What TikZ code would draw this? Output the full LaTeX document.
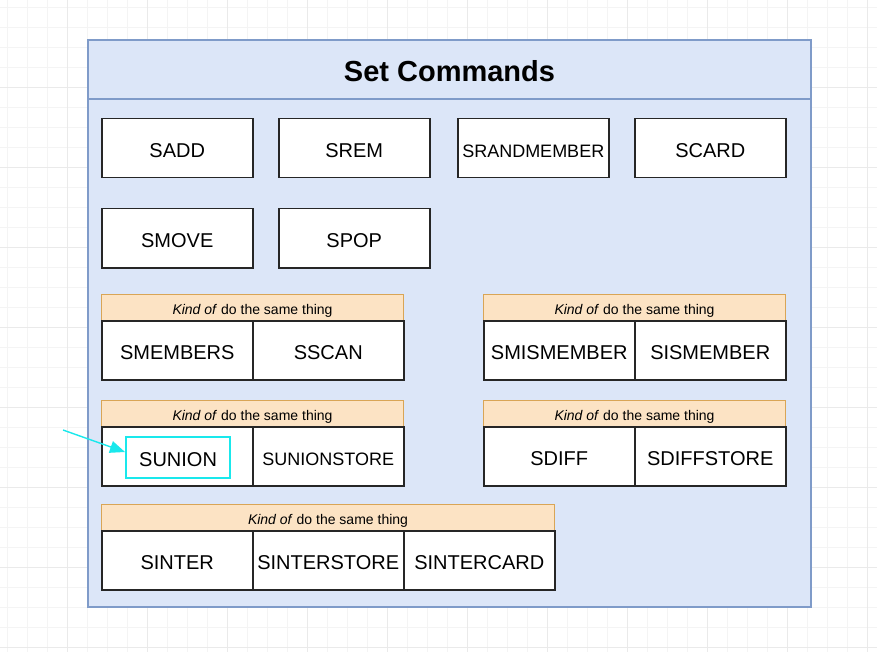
\documentclass[tikz,border=0pt]{standalone}
\usepackage{fontspec}
\setmainfont{Liberation Sans}
\usetikzlibrary{arrows.meta}
\definecolor{setfill}{HTML}{DCE6F8}
\definecolor{setline}{HTML}{7F9BC9}
\definecolor{cmdline}{HTML}{262626}
\definecolor{kindfill}{HTML}{FCE3C4}
\definecolor{kindline}{HTML}{D9A556}
\definecolor{hlcyan}{HTML}{19E8EC}
\definecolor{gridminor}{HTML}{F4F4F4}
\definecolor{gridmajor}{HTML}{EAEAEA}

\begin{document}
\begin{tikzpicture}[x=1pt,y=-1pt,
    cmd/.style={draw=cmdline,fill=white,line width=1.5pt,inner sep=0pt,
      minimum width=151pt,minimum height=59pt,anchor=north west,
      text height=18pt,text depth=0pt,
      font=\fontsize{20}{22}\selectfont},
    kind/.style={draw=kindline,fill=kindfill,line width=1pt,inner sep=0pt,
      minimum height=26pt,anchor=north west,
      text height=13pt,text depth=0pt,
      font=\fontsize{14}{16}\selectfont},
    hlbox/.style={draw=hlcyan,line width=2.2pt,inner sep=0pt,
      minimum width=104pt,minimum height=41pt,anchor=north west,
      text height=18pt,text depth=0pt},
    hlarrow/.style={draw=hlcyan,line width=1.4pt,-{Triangle[length=15pt,width=12pt]}}]
        \fill [white] (0,0) rectangle (877,652);
        \useasboundingbox (0,0) rectangle (877,652);
        \foreach \x in {7,27,...,867}
            \draw [gridminor,line width=0.8pt] (\x,0) -- (\x,652);
        \foreach \y in {7,27,...,647}
            \draw [gridminor,line width=0.8pt] (0,\y) -- (877,\y);
        \foreach \x in {67,147,...,867}
            \draw [gridmajor,line width=0.8pt] (\x,0) -- (\x,652);
        \foreach \y in {87,167,...,647}
            \draw [gridmajor,line width=0.8pt] (0,\y) -- (877,\y);
        \draw [setline,fill=setfill,line width=1.5pt] (88,40) rectangle (811,607);
        \draw [setline,line width=1.2pt] (88,99) -- (811,99);
        \node (title) at (449.5,71) {\fontsize{29}{32}\selectfont\bfseries Set Commands};
        \node [cmd] (sadd) at (101,118) {SADD};
        \node [cmd] (srem) at (278,118) {SREM};
        \node [cmd,font=\fontsize{18}{20}\selectfont] (srandmember) at (457,118) {SRANDMEMBER};
        \node [cmd] (scard) at (634,118) {SCARD};
        \node [cmd] (smove) at (101,208) {SMOVE};
        \node [cmd] (spop) at (278,208) {SPOP};
        \node [kind,minimum width=302pt] (kindmembers) at (101,294) {\textit{Kind of} do the same thing};
        \node [cmd] (smembers) at (101,320) {SMEMBERS};
        \node [cmd] (sscan) at (252,320) {SSCAN};
        \node [kind,minimum width=302pt] (kindismember) at (483,294) {\textit{Kind of} do the same thing};
        \node [cmd] (smismember) at (483,320) {SMISMEMBER};
        \node [cmd] (sismember) at (634,320) {SISMEMBER};
        \node [kind,minimum width=302pt] (kindunion) at (101,400) {\textit{Kind of} do the same thing};
        \node [cmd] (sunion) at (101,426) {};
        \node [cmd,font=\fontsize{18}{20}\selectfont] (sunionstore) at (252,426) {SUNIONSTORE};
        \node [hlbox,font=\fontsize{20}{22}\selectfont] (hl) at (125,436) {SUNION};
        \node [kind,minimum width=302pt] (kinddiff) at (483,400) {\textit{Kind of} do the same thing};
        \node [cmd] (sdiff) at (483,426) {SDIFF};
        \node [cmd] (sdiffstore) at (634,426) {SDIFFSTORE};
        \node [kind,minimum width=453pt] (kindinter) at (101,504) {\textit{Kind of} do the same thing};
        \node [cmd] (sinter) at (101,530) {SINTER};
        \node [cmd] (sinterstore) at (252,530) {SINTERSTORE};
        \node [cmd] (sintercard) at (403,530) {SINTERCARD};
        \coordinate (arrowstart) at (63,430);
        \draw [hlarrow] (arrowstart) -- (hl.174);
    \end{tikzpicture}
\end{document}
